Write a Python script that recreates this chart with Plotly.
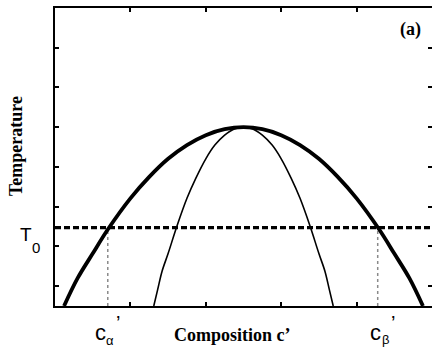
import plotly.graph_objects as go

# Binodal (thick) curve (x: composition, y: temperature)
binodal_x = [0.12, 0.3, 0.5, 0.7, 1.0, 1.25, 1.5, 1.75, 2.0, 2.25, 2.5, 2.75, 3.0, 3.25, 3.5, 3.75, 4.0, 4.3, 4.5, 4.7, 4.88]
binodal_y = [0.0, 1.4, 2.64, 3.85, 5.42, 6.5, 7.41, 8.1, 8.6, 8.9, 9.0, 8.9, 8.6, 8.1, 7.41, 6.5, 5.42, 3.85, 2.64, 1.4, 0.0]

# Spinodal (thin) curve
spinodal_x = [1.31, 1.36, 1.42, 1.5, 1.62, 1.75, 1.87, 2.0, 2.12, 2.25, 2.37, 2.5, 2.63, 2.75, 2.88, 3.0, 3.13, 3.25, 3.38, 3.5, 3.58, 3.64, 3.69]
spinodal_y = [0.0, 0.8, 1.75, 2.64, 4.05, 5.42, 6.45, 7.41, 8.1, 8.6, 8.9, 9.0, 8.9, 8.6, 8.1, 7.41, 6.45, 5.42, 4.05, 2.64, 1.75, 0.8, 0.0]

T0 = 3.95
c_alpha = 0.70
c_beta = 4.28
x_range = [0, 5]
y_range = [0, 15]
x_ticks = [1, 2, 3, 4]
y_ticks = [1, 3, 5, 7, 9, 11, 13]

fig = go.Figure()

fig.add_trace(go.Scatter(x=[c_alpha, c_alpha], y=[y_range[0], T0], mode="lines",
                         line=dict(color="#8a8a8a", width=1.5, dash="dot"), showlegend=False))
fig.add_trace(go.Scatter(x=[c_beta, c_beta], y=[y_range[0], T0], mode="lines",
                         line=dict(color="#8a8a8a", width=1.5, dash="dot"), showlegend=False))
fig.add_trace(go.Scatter(x=binodal_x, y=binodal_y, mode="lines", line_shape="spline",
                         line=dict(color="black", width=3.8), showlegend=False))
fig.add_trace(go.Scatter(x=spinodal_x, y=spinodal_y, mode="lines", line_shape="spline",
                         line=dict(color="black", width=1.6), showlegend=False))
fig.add_trace(go.Scatter(x=x_range, y=[T0, T0], mode="lines",
                         line=dict(color="black", width=3.2, dash="6px,3px"), showlegend=False))
fig.add_trace(go.Scatter(x=[None], y=[None], yaxis="y2", showlegend=False))

sans = "Liberation Sans, Arial, sans-serif"
serif = "Liberation Serif, Times New Roman, serif"


def ann(text, x, y, size, family, **kw):
    d = dict(text=text, x=x, y=y, xref="paper", yref="paper", showarrow=False,
             font=dict(family=family, size=size, color="black"),
             xanchor="center", yanchor="middle")
    d.update(kw)
    return d


annotations = [
    ann("T", -0.077, 0.2416, 19, sans),
    ann("0", -0.0504, 0.196, 15, sans),
    ann("c", 0.1220, -0.0880, 22, sans),
    ann("α", 0.1460, -0.1150, 13, sans),
    ann("’", 0.1670, -0.0580, 20, sans),
    ann("c", 0.8490, -0.0880, 22, sans),
    ann("β", 0.8760, -0.1110, 13, sans),
    ann("’", 0.8970, -0.0580, 20, sans),
    ann("<b>Composition c’</b>", 0.4695, -0.0973, 18, serif),
    ann("<b>Temperature</b>", -0.1034, 0.537, 18, serif, textangle=-90),
    ann("<b>(a)</b>", 0.9760, 0.9295, 18, serif, xanchor="right"),
]

fig.update_layout(
    width=432, height=347,
    margin=dict(l=55, r=0, t=8, b=41),
    paper_bgcolor="white", plot_bgcolor="white",
    showlegend=False,
    annotations=annotations,
    xaxis=dict(range=x_range, tickvals=x_ticks, showticklabels=False, ticks="inside",
               ticklen=4, tickwidth=1.5, tickcolor="black", showline=True, linewidth=2,
               linecolor="black", mirror="ticks", showgrid=False, zeroline=False),
    yaxis=dict(range=y_range, tickvals=y_ticks, showticklabels=False, ticks="inside",
               ticklen=4, tickwidth=1.5, tickcolor="black", showline=True, linewidth=2,
               linecolor="black", mirror=False, showgrid=False, zeroline=False),
    yaxis2=dict(range=y_range, tickvals=y_ticks, showticklabels=False, ticks="inside",
                ticklen=4, tickwidth=1.5, tickcolor="black", showline=False,
                overlaying="y", side="right", anchor="x", showgrid=False, zeroline=False),
)

fig.write_html("out.html", config={"displayModeBar": False},
               post_script="document.body.style.margin='0px';")
